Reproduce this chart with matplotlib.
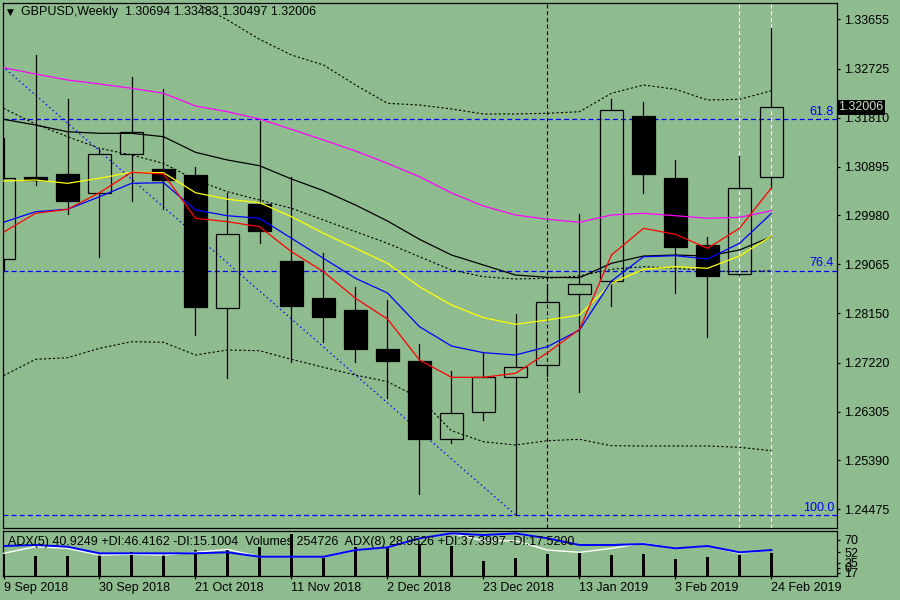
import numpy as np
import matplotlib
matplotlib.use("Agg")
import matplotlib.pyplot as plt
import matplotlib.transforms as mtransforms
from matplotlib.patches import Rectangle

plt.rcParams["font.family"] = ["Liberation Sans", "DejaVu Sans"]
plt.rcParams["font.size"] = 9

bg = "#8fbc8f"

# weekly GBPUSD bars, 9 Sep 2018 .. 24 Feb 2019
tick_dates = ["9 Sep 2018", "30 Sep 2018", "21 Oct 2018", "11 Nov 2018", "2 Dec 2018",
              "23 Dec 2018", "13 Jan 2019", "3 Feb 2019", "24 Feb 2019"]
opens = [1.29164, 1.30697, 1.30757, 1.30396, 1.31127, 1.30850, 1.30738, 1.28241, 1.30195,
         1.29127, 1.28428, 1.28209, 1.27478, 1.27253, 1.25787, 1.26292, 1.26948, 1.27173,
         1.28503, 1.28758, 1.31838, 1.30676, 1.29427, 1.28878, 1.30694]
highs = [1.31431, 1.32986, 1.32162, 1.31221, 1.32574, 1.32349, 1.30888, 1.30401, 1.31749,
         1.30701, 1.29271, 1.28634, 1.28397, 1.27572, 1.27072, 1.27398, 1.28134, 1.28696,
         1.30002, 1.32162, 1.32112, 1.31019, 1.29582, 1.31100, 1.33483]
lows = [1.28960, 1.30551, 1.30008, 1.29202, 1.30251, 1.30101, 1.27740, 1.26940, 1.29464,
        1.27229, 1.27615, 1.27240, 1.26566, 1.24756, 1.25718, 1.26148, 1.24370, 1.26972,
        1.26678, 1.28290, 1.30406, 1.28533, 1.27708, 1.28860, 1.30497]
closes = [1.30682, 1.30650, 1.30251, 1.31127, 1.31539, 1.30644, 1.28271, 1.29633, 1.29689,
          1.28290, 1.28083, 1.27478, 1.27259, 1.25798, 1.26274, 1.26948, 1.27147, 1.28354,
          1.28690, 1.31950, 1.30762, 1.29395, 1.28852, 1.30489, 1.32006]

# moving averages
ma_red = [1.29665, 1.30020, 1.30095, 1.30406, 1.30789, 1.30757, 1.29927, 1.29863, 1.29769,
          1.29301, 1.28926, 1.28428, 1.28040, 1.27272, 1.26948, 1.26948, 1.27023, 1.27409,
          1.27847, 1.29239, 1.29739, 1.29627, 1.29365, 1.29739, 1.30500]
ma_blue = [1.29852, 1.30050, 1.30095, 1.30331, 1.30582, 1.30594, 1.30082, 1.29975, 1.29927,
           1.29552, 1.29177, 1.28803, 1.28527, 1.27896, 1.27534, 1.27409, 1.27366, 1.27521,
           1.27834, 1.28752, 1.29207, 1.29226, 1.29164, 1.29458, 1.30020]
ma_yellow = [1.30626, 1.30644, 1.30582, 1.30676, 1.30789, 1.30781, 1.30406, 1.30283, 1.30219,
             1.29957, 1.29646, 1.29365, 1.29084, 1.28645, 1.28302, 1.28064, 1.27941, 1.28021,
             1.28115, 1.28709, 1.28971, 1.29020, 1.28990, 1.29220, 1.29595]
ma_black = [1.31782, 1.31675, 1.31549, 1.31519, 1.31519, 1.31456, 1.31163, 1.31019, 1.30912,
            1.30663, 1.30444, 1.30176, 1.29876, 1.29533, 1.29239, 1.29052, 1.28864, 1.28821,
            1.28814, 1.29084, 1.29220, 1.29239, 1.29220, 1.29333, 1.29582]
ma_magenta = [1.32748, 1.32630, 1.32518, 1.32443, 1.32362, 1.32269, 1.32031, 1.31924, 1.31787,
              1.31594, 1.31394, 1.31188, 1.30957, 1.30706, 1.30401, 1.30157, 1.29989, 1.29908,
              1.29852, 1.29989, 1.30020, 1.29975, 1.29927, 1.29945, 1.30069]

# bollinger bands
bb_upper = [1.36827, 1.36077, 1.35515, 1.34991, 1.34616, 1.34279, 1.33960, 1.33642, 1.33280,
            1.32986, 1.32799, 1.32424, 1.32081, 1.32049, 1.31975, 1.31881, 1.31881, 1.31894,
            1.31924, 1.32269, 1.32424, 1.32344, 1.32143, 1.32156, 1.32317]
bb_mid = [1.31988, 1.31693, 1.31456, 1.31238, 1.31113, 1.30957, 1.30644, 1.30425, 1.30270,
          1.30114, 1.29895, 1.29676, 1.29458, 1.29207, 1.28958, 1.28833, 1.28790, 1.28803,
          1.28846, 1.28971, 1.29020, 1.28990, 1.28945, 1.28926, 1.28945]
bb_lower = [1.26978, 1.27285, 1.27315, 1.27491, 1.27615, 1.27604, 1.27366, 1.27459, 1.27446,
            1.27285, 1.27135, 1.26991, 1.26865, 1.26560, 1.25947, 1.25741, 1.25680, 1.25760,
            1.25786, 1.25666, 1.25661, 1.25661, 1.25661, 1.25636, 1.25573]

# fibonacci retracement (Apr 2018 high -> Jan 2019 low)
fib_high = 1.4377
fib_high_week = -21
fib_low = 1.2437
fib_low_week = 16
fib_levels = [61.8, 76.4, 100.0]

# lower window
volumes = [272700, 224000, 224000, 254700, 266000, 254700, 291700, 299600, 322000, 471000,
           198600, 322000, 317600, 359000, 336600, 168300, 205000, 243500, 272700, 235600,
           246900, 190800, 216600, 235600, 254726]
adx_blue = [60.9, 62.3, 59.9, 50.6, 50.6, 50.6, 50.6, 52.0, 45.8, 45.8, 45.8, 55.2, 59.0,
            71.7, 78.7, 76.3, 78.7, 71.7, 62.3, 62.3, 63.7, 57.6, 60.9, 52.0, 55.2]
adx_white = [50.6, 59.9, 57.6, 48.2, 49.2, 48.2, 52.0, 56.2, 45.8, 45.8, 45.8, 55.2, 59.0,
             71.7, 78.7, 68.3, 68.3, 55.2, 52.0, 57.6, 64.7, 57.6, 60.9, 50.6, 55.2]

price_ticks = [1.33655, 1.32725, 1.31810, 1.30895, 1.29980, 1.29065, 1.28150, 1.27220,
               1.26305, 1.25390, 1.24475]

x = np.arange(len(opens))

fig = plt.figure(figsize=(9, 6), dpi=100, facecolor=bg)
ax = fig.add_axes([3 / 900, 72.5 / 600, 834 / 900, 524.8 / 600])
ax.set_facecolor(bg)
ax.set_xlim(-0.5 / 32, 833.5 / 32)
ax.set_ylim(1.24134, 1.33966)

# fibonacci
fib_x = [fib_high_week, fib_low_week]
ax.plot(fib_x, [fib_high, fib_low], color="blue", lw=0.8, ls=(0, (1.5, 2.5)), zorder=1)
ylab = mtransforms.blended_transform_factory(ax.transAxes, ax.transData)
for lv in fib_levels:
    p = fib_low + (1 - lv / 100) * (fib_high - fib_low)
    ax.axhline(p, color="blue", lw=0.9, ls=(0, (4, 2.5)), zorder=1)
    ax.text(0.9965, p + 0.0002, "%.1f" % lv, transform=ylab, ha="right", va="bottom",
            color="blue", fontsize=9)

ax.axvline(17, color="black", lw=0.8, ls=(0, (3.5, 2.5)), zorder=1)
for v in (23, 24):
    ax.axvline(v, color="white", lw=0.8, ls=(0, (3.5, 2.5)), zorder=1)

# candles
w = 0.74
for i in x:
    o, h, l, c = opens[i], highs[i], lows[i], closes[i]
    lo, hi = min(o, c), max(o, c)
    ax.plot([i, i], [hi, h], color="black", lw=0.9, zorder=2)
    ax.plot([i, i], [l, lo], color="black", lw=0.9, zorder=2)
    bull = c > o
    ax.add_patch(Rectangle((i - w / 2, lo), w, max(hi - lo, 0.0002),
                           facecolor="none" if bull else "black", edgecolor="black",
                           lw=0.9, zorder=3))

dot = (0, (2, 2))
ax.plot(x, bb_upper, color="black", lw=0.8, ls=dot, zorder=4)
ax.plot(x, bb_mid, color="black", lw=0.8, ls=dot, zorder=4)
ax.plot(x, bb_lower, color="black", lw=0.8, ls=dot, zorder=4)
ax.plot(x, ma_magenta, color="magenta", lw=0.9, zorder=5)
ax.plot(x, ma_black, color="black", lw=0.9, zorder=5)
ax.plot(x, ma_yellow, color="yellow", lw=0.9, zorder=5)
ax.plot(x, ma_blue, color="blue", lw=0.9, zorder=5)
ax.plot(x, ma_red, color="red", lw=0.9, zorder=5)

ax.set_xticks([])
ax.yaxis.tick_right()
ax.set_yticks(price_ticks)
ax.set_yticklabels(["%.5f" % t for t in price_ticks])
ax.tick_params(axis="y", direction="out", length=2.5, width=0.9, pad=2.6, labelsize=9)
for s in ax.spines.values():
    s.set_linewidth(0.9)

ax.text(1.0015, closes[-1], "%.5f" % closes[-1], transform=ylab, ha="left", va="center",
        color="#c6e2c0", fontsize=9, zorder=10, clip_on=False,
        bbox=dict(boxstyle="square,pad=0.1", fc="black", ec="none"))

fig.text(7 / 900, 1 - 12 / 600, "\u25bc", fontsize=6.5, va="center", ha="left",
         family=["DejaVu Sans"])
fig.text(21 / 900, 1 - 12.5 / 600,
         "GBPUSD,Weekly  %.5f %.5f %.5f %.5f" % (opens[-1], highs[-1], lows[-1], closes[-1]),
         va="center", ha="left", fontsize=9)

# lower window: volumes + ADX
ax2 = fig.add_axes([3 / 900, 24 / 600, 834 / 900, 45.3 / 600])
ax2.set_facecolor(bg)
ax2.set_xlim(ax.get_xlim())
ax2.set_ylim(0, 508000)
ax2.bar(x, volumes, width=0.085, color="black", zorder=2)
ax2.set_yticks([])
ax2.set_xticks(x[::3])
ax2.set_xticklabels(tick_dates, ha="left")
ax2.tick_params(axis="x", direction="out", length=2.5, width=0.9, pad=1.5, labelsize=9)
for s in ax2.spines.values():
    s.set_linewidth(0.9)

ax3 = ax2.twinx()
ax3.set_ylim(18.7, 82.4)
ax3.plot(x, adx_white, color="white", lw=1.0, zorder=3)
ax3.plot(x, adx_blue, color="blue", lw=1.4, zorder=4)
ax3.set_yticks([70, 52, 37.4, 30.4, 23.3])
ax3.set_yticklabels(["70", "52", "35", "0", "17"])
ax3.tick_params(axis="y", direction="out", length=2.5, width=0.9, pad=2.6, labelsize=9)
for s in ax3.spines.values():
    s.set_visible(False)

fig.text(7.7 / 900, 1 - 541.7 / 600,
         "ADX(5) 40.9249 +DI:46.4162 -DI:15.1004  Volumes %d  ADX(8) 28.9526 +DI:37.3997 -DI:17.5200"
         % volumes[-1], va="center", ha="left", fontsize=9)

fig.savefig("out.png", dpi=100, facecolor=bg)
